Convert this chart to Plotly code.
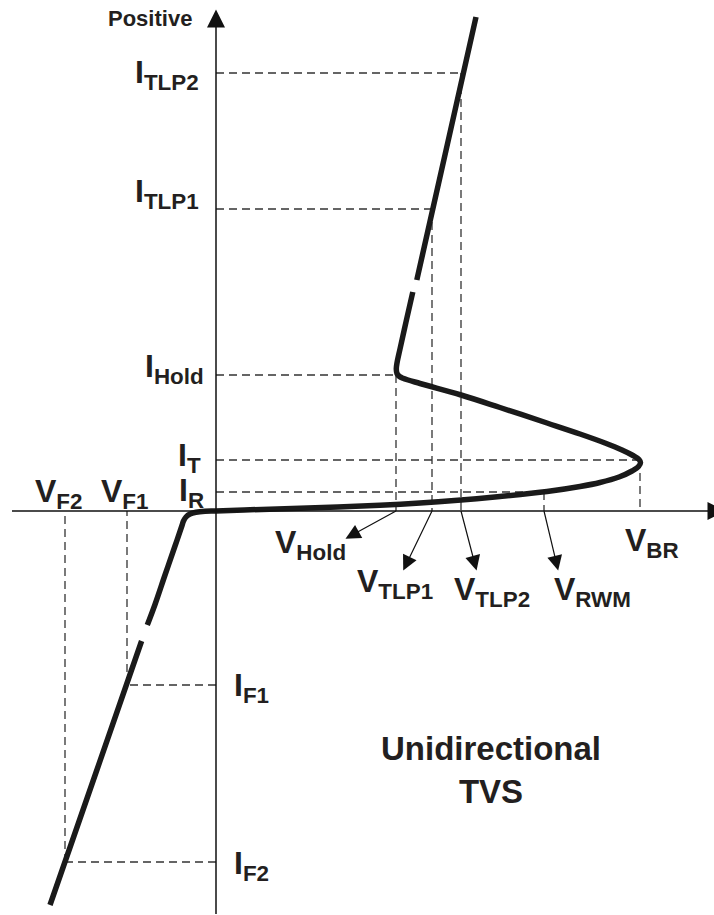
import plotly.graph_objects as go

# I-V curve of a unidirectional TVS (arbitrary units), None marks the drawn breaks
v_curve = [260, 230.1, 200.8, None,
           196.8, 190, 184, 181, 180.3, 181, 183.5, 187, 204, 245, 284, 331, 364, 389, 406, 417,
           423, 424.5, 422.5, 416, 403, 384, 364, 331, 284, 245, 204, 164, 84, 34, 0,
           -11, -20, -26, -30, -32.5, -34, -41, -51, -61, -68.7, None,
           -74.4, -120, -166]
i_curve = [494, 361, 231, None,
           219, 189, 162, 148, 142, 137.5, 134.5, 132.7, 127.5, 116, 103.5, 88, 77, 68, 61, 55.5,
           51.5, 48.5, 44.5, 40, 34, 28.5, 24.5, 19.5, 14.5, 11, 8, 5.8, 2.7, 1.2, 0,
           -0.3, -1.3, -3, -6, -10, -14.5, -35, -64, -93.5, -114, None,
           -130, -261.5, -394]

# characteristic points (voltage, current)
v_levels = {'Hold': 180, 'TLP1': 216, 'TLP2': 245, 'BR': 424, 'RWM': 328, 'F1': -89, 'F2': -151}
i_levels = {'Hold': 136, 'TLP1': 302, 'TLP2': 438, 'T': 51, 'R': 19, 'F1': -174, 'F2': -351}

# which voltage each current guide runs to
guide_pairs = [('TLP2', 'TLP2'), ('TLP1', 'TLP1'), ('Hold', 'Hold'), ('T', 'BR'),
               ('R', 'RWM'), ('F1', 'F1'), ('F2', 'F2')]

FONT = 'Liberation Sans, Arial, sans-serif'
TEXT_COLOR = '#231f20'
DASH_COLOR = '#333333'

fig = go.Figure()

# dashed guide lines
for i_key, v_key in guide_pairs:
    v = v_levels[v_key]
    i = i_levels[i_key]
    fig.add_trace(go.Scatter(
        x=[0, v, None, v, v], y=[i, i, None, i, 0],
        mode='lines', line=dict(color=DASH_COLOR, width=1.3, dash='8px,5px'),
        hoverinfo='skip', showlegend=False
    ))

# main curve
fig.add_trace(go.Scatter(
    x=v_curve, y=i_curve, mode='lines',
    line=dict(color='#1a1a1a', width=5.5, shape='spline', smoothing=1),
    connectgaps=False, hoverinfo='skip', showlegend=False
))

annotations = []


def arrow(x0, y0, x1, y1, width, size):
    # anchored at the tail, head drawn at the (ax, ay) end so the empty text box does not clip it
    return dict(x=x0, y=y0, ax=x1, ay=y1, xref='x', yref='y', axref='x', ayref='y',
                text='', showarrow=True, arrowside='start',
                startarrowhead=2, startarrowsize=size, arrowwidth=width, arrowcolor='#111',
                font=dict(size=1), borderpad=0)


# axes with arrow heads
annotations.append(arrow(0, -403, 0, 502, 1.5, 2.4))
annotations.append(arrow(-204, 0, 510, 0, 1.5, 2.4))

# pointer arrows from voltage marks to their labels
pointer_tips = {'Hold': (129, -28), 'TLP1': (187, -60), 'TLP2': (260.7, -60), 'RWM': (342.3, -60)}
for key, (tx, ty) in pointer_tips.items():
    annotations.append(arrow(v_levels[key], 0, tx, ty, 1.2, 2.5))


def label(main, sub, x, y, xanchor):
    return dict(x=x, y=y, xref='x', yref='y', xanchor=xanchor, yanchor='middle',
                text='<b>%s<sub>%s</sub></b>' % (main, sub), showarrow=False,
                font=dict(family=FONT, size=32, color=TEXT_COLOR))


annotations += [
    label('I', 'TLP2', -15, 437, 'right'),
    label('I', 'TLP1', -15, 318, 'right'),
    label('I', 'Hold', -10, 143, 'right'),
    label('I', 'T', -13, 54, 'right'),
    label('I', 'R', -10, 19, 'right'),
    label('I', 'F1', 16, -176, 'left'),
    label('I', 'F2', 16, -354, 'left'),
    label('V', 'F2', -183, 18, 'left'),
    label('V', 'F1', -117, 18, 'left'),
    label('V', 'Hold', 57, -33, 'left'),
    label('V', 'TLP1', 139, -72, 'left'),
    label('V', 'TLP2', 236, -80, 'left'),
    label('V', 'RWM', 336, -80, 'left'),
    label('V', 'BR', 407, -31, 'left'),
]

annotations.append(dict(x=-22, y=493, xref='x', yref='y', xanchor='right', yanchor='middle',
                        text='<b>Positive</b>', showarrow=False,
                        font=dict(family=FONT, size=22, color=TEXT_COLOR)))
annotations.append(dict(x=275, y=-259, xref='x', yref='y', xanchor='center', yanchor='middle',
                        text='<b>Unidirectional<br>TVS</b>', showarrow=False,
                        font=dict(family=FONT, size=33, color=TEXT_COLOR)))

fig.update_layout(
    width=714, height=915,
    margin=dict(l=0, r=0, t=0, b=0),
    plot_bgcolor='white', paper_bgcolor='white',
    showlegend=False,
    annotations=annotations,
)
fig.update_xaxes(range=[-216, 498], visible=False, fixedrange=True)
fig.update_yaxes(range=[-404, 511], visible=False, fixedrange=True)

fig.write_html("out.html", config={'displayModeBar': False},
               post_script="document.body.style.margin='0';")
